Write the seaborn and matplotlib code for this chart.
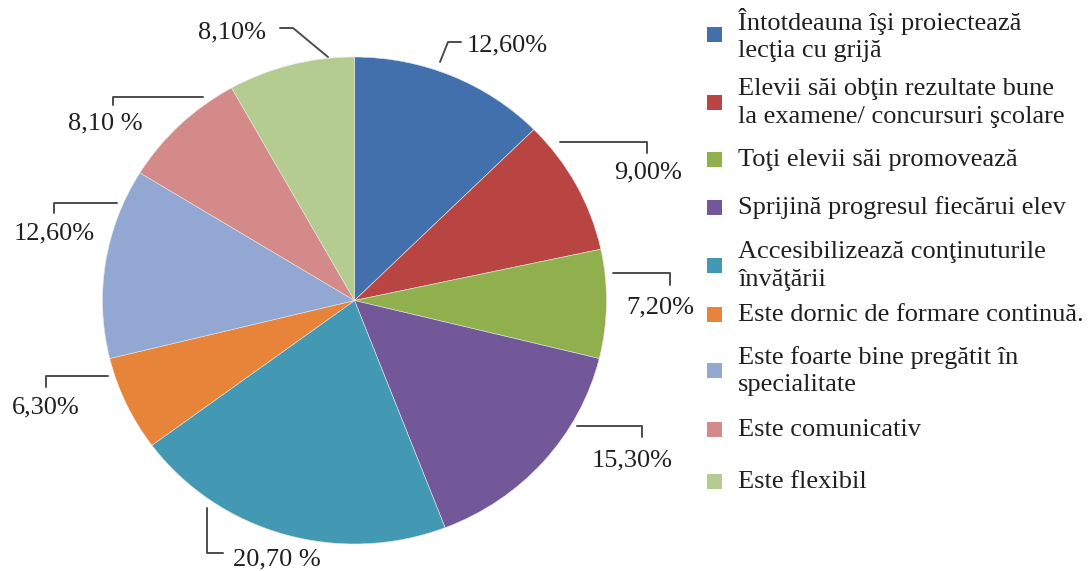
import matplotlib.pyplot as plt
import seaborn as sns
from matplotlib.lines import Line2D
from matplotlib.patches import Rectangle

# data
categories = [
    "Întotdeauna îşi proiectează\nlecţia cu grijă",
    "Elevii săi obţin rezultate bune\nla examene/ concursuri şcolare",
    "Toţi elevii săi promovează",
    "Sprijină progresul fiecărui elev",
    "Accesibilizează conţinuturile\nînvăţării",
    "Este dornic de formare continuă.",
    "Este foarte bine pregătit în\nspecialitate",
    "Este comunicativ",
    "Este flexibil",
]
values = [12.6, 9.0, 7.2, 15.3, 20.7, 6.3, 12.6, 8.1, 8.1]
pct_labels = ["12,60%", "9,00%", "7,20%", "15,30%", "20,70 %",
              "6,30%", "12,60%", "8,10 %", "8,10%"]
colors = ["#4170AD", "#B94542", "#8FB04D", "#725898", "#4399B4",
          "#E8843A", "#93A7D3", "#D48A89", "#B5CC91"]

# layout (pixels of the 1088x571 canvas)
W, H = 1088, 571
CX, CY, RX, RY = 354.5, 300.5, 252, 243.5

# text x, text y, alignment, leader polyline
label_layout = [
    (467, 45, "left", [(440, 62), (448, 42), (461, 42)]),
    (648, 172, "center", [(560, 142), (647, 142), (647, 153)]),
    (660, 307, "center", [(613, 273), (670, 273), (670, 285)]),
    (632, 460, "center", [(577, 426), (642, 426), (642, 437)]),
    (233, 559, "left", [(207, 508), (207, 553), (223, 553)]),
    (46, 407, "center", [(108, 376), (46, 376), (46, 387)]),
    (54, 233, "center", [(117, 203), (54, 203), (54, 213)]),
    (105, 123, "center", [(203, 97), (113, 97), (113, 105)]),
    (232, 32, "center", [(328, 57), (293, 28), (280, 28)]),
]
legend_y = [35, 103, 160, 208, 266, 315, 371, 430, 482]

sns.set_style("white")
plt.rcParams['font.family'] = ['Liberation Serif', 'DejaVu Serif']
TXT = "#1f1f1f"


def fx(x):
    return x / W


def fy(y):
    return 1 - y / H


fig = plt.figure(figsize=(W / 100, H / 100), dpi=100)
ax = fig.add_axes([0, 0, 1, 1])
ax.pie(values, colors=sns.color_palette(colors), startangle=90,
       counterclock=False, radius=1,
       wedgeprops=dict(edgecolor="#e6e6e6", linewidth=0.4))
ax.set_aspect('auto')
ax.set_xlim(-CX / RX, (W - CX) / RX)
ax.set_ylim((CY - H) / RY, CY / RY)
ax.axis('off')

# percentage labels with elbow leader lines
for txt, (tx, ty, ha, pts) in zip(pct_labels, label_layout):
    fig.add_artist(Line2D([fx(p[0]) for p in pts], [fy(p[1]) for p in pts],
                          color="#4d4d4d", lw=1.4, transform=fig.transFigure))
    fig.text(fx(tx), fy(ty), txt, ha=ha, va='center', fontsize=19, color=TXT)

# legend drawn by hand (uneven spacing in the original)
for cat, col, ly in zip(categories, colors, legend_y):
    fig.add_artist(Rectangle((fx(707), fy(ly + 7)), 15 / W, 15 / H,
                             facecolor=col, edgecolor='none',
                             transform=fig.transFigure))
    fig.text(fx(738), fy(ly), cat, ha='left', va='center', fontsize=19,
             color=TXT, linespacing=1.3)

fig.savefig("out.png", dpi=100)
